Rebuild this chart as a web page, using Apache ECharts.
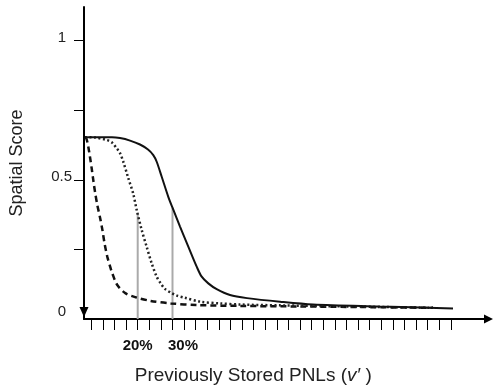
<!DOCTYPE html>
<html>
<head>
<meta charset="utf-8">
<script src="https://cdn.jsdelivr.net/npm/echarts@6/dist/echarts.min.js"></script>
<style>
  html, body { margin: 0; padding: 0; background: #fff; }
  #chart { width: 494px; height: 390px; }
</style>
</head>
<body>
<div id="chart"></div>
<script>
// ---- data (x in % of previously stored PNLs, y = spatial score) ----
const solidX  = [4.86, 9.17, 12.61, 14.91, 17.79, 20.66, 22.96, 24.48, 25.46, 26.90, 28.79, 30.06, 32.16, 34.54, 36.95, 38.39, 40.29, 42.70, 46.52, 51.41, 60.89, 70.37, 89.63, 110.60];
const solidY  = [0.653, 0.653, 0.653, 0.650, 0.641, 0.627, 0.609, 0.589, 0.565, 0.511, 0.439, 0.398, 0.332, 0.260, 0.188, 0.152, 0.128, 0.107, 0.086, 0.075, 0.062, 0.052, 0.045, 0.038];

const dottedX = [4.86, 7.73, 11.09, 12.61, 13.97, 14.91, 15.86, 17.30, 18.74, 19.71, 21.15, 22.59, 24.02, 25.46, 26.61, 27.84, 29.48, 31.29, 33.30, 38.10, 43.65, 49.40, 60.89, 81.01, 104.86];
const dottedY = [0.653, 0.652, 0.643, 0.634, 0.613, 0.596, 0.565, 0.506, 0.449, 0.392, 0.320, 0.259, 0.200, 0.152, 0.128, 0.108, 0.095, 0.084, 0.077, 0.062, 0.056, 0.052, 0.049, 0.045, 0.040];

const dashedX = [4.86, 5.29, 5.80, 6.29, 6.78, 7.24, 7.73, 8.39, 9.17, 9.83, 10.46, 11.26, 12.04, 12.70, 14.14, 16.55, 19.43, 23.74, 29.48, 37.13, 49.40, 66.64, 83.88, 104.86];
const dashedY = [0.653, 0.647, 0.619, 0.582, 0.541, 0.499, 0.457, 0.410, 0.365, 0.322, 0.273, 0.224, 0.190, 0.164, 0.122, 0.092, 0.078, 0.065, 0.056, 0.050, 0.047, 0.045, 0.043, 0.040];

// gray marker lines: x position and the curve height they reach
const markerX = [20, 30];
const markerY = [0.38, 0.40];

// axis ticks and labels
const xTickValues = [6.667, 10, 13.333, 16.667, 20, 23.333, 26.667, 30, 33.333, 36.667, 40, 43.333, 46.667, 50, 53.333, 56.667, 60, 63.333, 66.667, 70, 73.333, 76.667, 80, 83.333, 86.667, 90, 93.333, 96.667, 100, 103.333, 106.667, 110];
const xLabelValues = [20, 30];
const xLabelTexts = ['20%', '30%'];
const yTickValues = [0.25, 0.5, 0.75, 1];
const yLabelValues = [0, 0.5, 1];
const yLabelTexts = ['0', '0.5', '1'];

const FONT = '"Liberation Sans", Arial, Helvetica, sans-serif';
const INK = '#111';

function pairs(xs, ys) { return xs.map((x, i) => [x, ys[i]]); }

const markerSeries = markerX.map((x, i) => ({
  type: 'line',
  data: [[x, 0], [x, markerY[i]]],
  symbol: 'none',
  lineStyle: { color: '#aaaaaa', width: 2 },
  z: 1,
  silent: true
}));

const chart = echarts.init(document.getElementById('chart'), null, { renderer: 'canvas' });
chart.setOption({
  animation: false,
  backgroundColor: '#ffffff',
  grid: { left: 84, right: 5.5, top: 7, bottom: 71, containLabel: false, outerBoundsMode: 'none' },
  xAxis: {
    type: 'value',
    min: 4.57,
    max: 120.8,
    splitLine: { show: false },
    axisLine: {
      onZero: false,
      lineStyle: { color: '#000', width: 2 },
      symbol: ['none', 'triangle'],
      symbolSize: [9, 9],
      symbolOffset: [0, 0]
    },
    axisTick: { show: true, customValues: xTickValues, length: 11, lineStyle: { color: '#000', width: 1 } },
    axisLabel: {
      customValues: xLabelValues,
      margin: 19,
      formatter: function (v) {
        const i = xLabelValues.indexOf(v);
        const t = i >= 0 ? xLabelTexts[i] : '';
        return i === 1 ? '{s|' + t + '}' : '{n|' + t + '}';
      },
      rich: {
        n: { fontFamily: FONT, fontSize: 15, fontWeight: 'bold', color: '#111' },
        s: { fontFamily: FONT, fontSize: 15, fontWeight: 'bold', color: '#111', padding: [0, 0, 0, 21] }
      }
    },
    name: '{n|Previously Stored PNLs (}{i|v′}{n| )}',
    nameLocation: 'middle',
    nameGap: 47,
    nameTextStyle: {
      padding: [0, 66, 0, 0],
      rich: {
        n: { fontFamily: FONT, fontSize: 19, color: '#222' },
        i: { fontFamily: FONT, fontSize: 19, color: '#222', fontStyle: 'italic' }
      }
    }
  },
  yAxis: {
    type: 'value',
    min: 0,
    max: 1.121,
    splitLine: { show: false },
    axisLine: {
      onZero: false,
      lineStyle: { color: '#000', width: 2 },
      symbol: ['triangle', 'none'],
      symbolSize: [9, 10],
      symbolOffset: [7, 0]
    },
    axisTick: { show: true, customValues: yTickValues, length: 10, lineStyle: { color: '#000', width: 1 } },
    axisLabel: {
      customValues: yLabelValues,
      margin: 12,
      formatter: function (v) {
        const i = yLabelValues.indexOf(v);
        const t = i >= 0 ? yLabelTexts[i] : '';
        if (v === 0) return '{z|' + t + '}';
        if (v === 1) return '{o|' + t + '}';
        return '{h|' + t + '}';
      },
      rich: {
        z: { fontFamily: FONT, fontSize: 15, color: '#222', padding: [0, 6, 14, 0] },
        o: { fontFamily: FONT, fontSize: 15, color: '#222', padding: [0, 6, 5, 0] },
        h: { fontFamily: FONT, fontSize: 15, color: '#222', padding: [0, 0, 5, 0] }
      }
    },
    name: 'Spatial Score',
    nameLocation: 'middle',
    nameGap: 58,
    nameTextStyle: { fontFamily: FONT, fontSize: 18, color: '#222' }
  },
  series: markerSeries.concat([
    {
      name: 'dashed',
      type: 'line',
      data: pairs(dashedX, dashedY),
      symbol: 'none',
      smooth: 0.3,
      lineStyle: { color: INK, width: 2.5, type: [6, 4] },
      z: 3
    },
    {
      name: 'dotted',
      type: 'line',
      data: pairs(dottedX, dottedY),
      symbol: 'none',
      smooth: 0.3,
      lineStyle: { color: '#222', width: 2.5, type: [2, 2.5] },
      z: 3
    },
    {
      name: 'solid',
      type: 'line',
      data: pairs(solidX, solidY),
      symbol: 'none',
      smooth: 0.3,
      lineStyle: { color: INK, width: 2 },
      z: 4
    }
  ])
});
</script>
</body>
</html>
